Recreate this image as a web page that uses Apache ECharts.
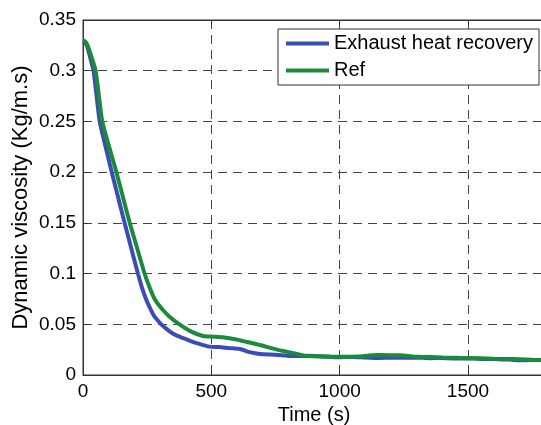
<!DOCTYPE html>
<html>
<head>
<meta charset="utf-8">
<script src="https://cdn.jsdelivr.net/npm/echarts@6/dist/echarts.min.js"></script>
<style>html,body{margin:0;padding:0;background:#fff;}#c{width:541px;height:425px;}</style>
</head>
<body>
<div id="c"></div>
<script>
var seriesNames = ['Exhaust heat recovery', 'Ref'];
var exhaustTime = [0, 8, 16, 25, 33, 41, 53, 65, 88, 112, 137, 162, 188, 214, 230, 247, 263, 279, 305, 330, 350, 376, 410, 450, 493, 530, 570, 611, 650, 689, 750, 818, 883, 950, 1000, 1050, 1100, 1150, 1200, 1250, 1300, 1350, 1400, 1450, 1500, 1560, 1620, 1670, 1713, 1760, 1800];
var exhaustVisc = [0.329, 0.328, 0.324, 0.316, 0.308, 0.300, 0.275, 0.250, 0.225, 0.200, 0.175, 0.150, 0.125, 0.100, 0.086, 0.074, 0.065, 0.0575, 0.050, 0.0445, 0.041, 0.0378, 0.0345, 0.031, 0.028, 0.0275, 0.0265, 0.0256, 0.0225, 0.0207, 0.0200, 0.0187, 0.0190, 0.0180, 0.0175, 0.0178, 0.0172, 0.0168, 0.0172, 0.0170, 0.0172, 0.0166, 0.0168, 0.0163, 0.0164, 0.0158, 0.0156, 0.0150, 0.0145, 0.0148, 0.0150];
var refTime = [0, 8, 16, 25, 35, 49, 62, 75, 102, 130, 156, 182, 211, 240, 260, 279, 308, 337, 376, 420, 467, 510, 545, 598, 640, 689, 740, 793, 871, 930, 1000, 1070, 1145, 1190, 1234, 1300, 1350, 1400, 1450, 1500, 1550, 1600, 1650, 1700, 1750, 1800];
var refVisc = [0.330, 0.329, 0.326, 0.320, 0.312, 0.300, 0.275, 0.250, 0.225, 0.200, 0.175, 0.150, 0.125, 0.100, 0.086, 0.075, 0.065, 0.0575, 0.050, 0.043, 0.0385, 0.0378, 0.0372, 0.035, 0.0325, 0.0296, 0.026, 0.023, 0.0187, 0.0185, 0.018, 0.0182, 0.0197, 0.0195, 0.0195, 0.018, 0.0178, 0.0172, 0.0170, 0.0166, 0.0164, 0.016, 0.0158, 0.0155, 0.0150, 0.0148];

function pairs(xs, ys) { var out = []; for (var i = 0; i < xs.length; i++) out.push([xs[i], ys[i]]); return out; }

var chart = echarts.init(document.getElementById('c'), null, {renderer: 'canvas'});
var font = 'Liberation Sans';
chart.setOption({
  animation: false,
  backgroundColor: '#fff',
  grid: {left: 83, top: 20, width: 462, height: 355, outerBoundsMode: 'none', containLabel: false,
    show: true, borderColor: '#333', borderWidth: 1, backgroundColor: 'transparent'},
  legend: {
    orient: 'vertical', left: 278, top: 29,
    padding: [4, 6, 4, 8], itemGap: 6,
    backgroundColor: '#fff', borderColor: '#333', borderWidth: 1,
    icon: 'rect', itemWidth: 43, itemHeight: 4,
    textStyle: {fontFamily: font, fontSize: 20, color: '#000', lineHeight: 21, padding: [0, 0, 0, 0]},
    data: seriesNames
  },
  xAxis: [{
    type: 'value', min: 0, max: 1800, interval: 500,
    name: 'Time (s)', nameLocation: 'middle', nameGap: 29,
    nameTextStyle: {fontFamily: font, fontSize: 20, color: '#000'},
    axisLine: {show: true, lineStyle: {color: '#333', width: 1}},
    axisTick: {show: true, inside: true, length: 5, lineStyle: {color: '#333'}},
    axisLabel: {fontFamily: font, fontSize: 19, color: '#000', margin: 7, showMaxLabel: false,
      formatter: function (v) { return String(v); }},
    splitLine: {show: true, lineStyle: {color: '#444', type: [9, 6], width: 1}}
  }, {
    type: 'value', min: 0, max: 1800, interval: 500, position: 'top',
    axisLine: {show: true, lineStyle: {color: '#333', width: 1}},
    axisTick: {show: true, inside: true, length: 5, lineStyle: {color: '#333'}},
    axisLabel: {show: false}, splitLine: {show: false}
  }],
  yAxis: {
    type: 'value', min: 0, max: 0.35, interval: 0.05,
    name: 'Dynamic viscosity (Kg/m.s)', nameLocation: 'middle', nameGap: 51, nameMoveOverlap: false,
    nameTextStyle: {fontFamily: font, fontSize: 22, color: '#000'},
    axisLine: {show: true, lineStyle: {color: '#333', width: 1}},
    axisTick: {show: true, inside: true, length: 5, lineStyle: {color: '#333'}},
    axisLabel: {fontFamily: font, fontSize: 19, color: '#000', margin: 7,
      formatter: function (v) { return String(Math.round(v * 100) / 100); }},
    splitLine: {show: true, lineStyle: {color: '#444', type: [9, 6], width: 1}}
  },
  series: [{
    name: seriesNames[0], type: 'line', showSymbol: false, smooth: 0.2,
    color: '#3a4db5', lineStyle: {width: 4, color: '#3a4db5'},
    data: pairs(exhaustTime, exhaustVisc)
  }, {
    name: seriesNames[1], type: 'line', showSymbol: false, smooth: 0.2,
    color: '#1b8a3c', lineStyle: {width: 4, color: '#1b8a3c'},
    data: pairs(refTime, refVisc)
  }]
});
</script>
</body>
</html>
